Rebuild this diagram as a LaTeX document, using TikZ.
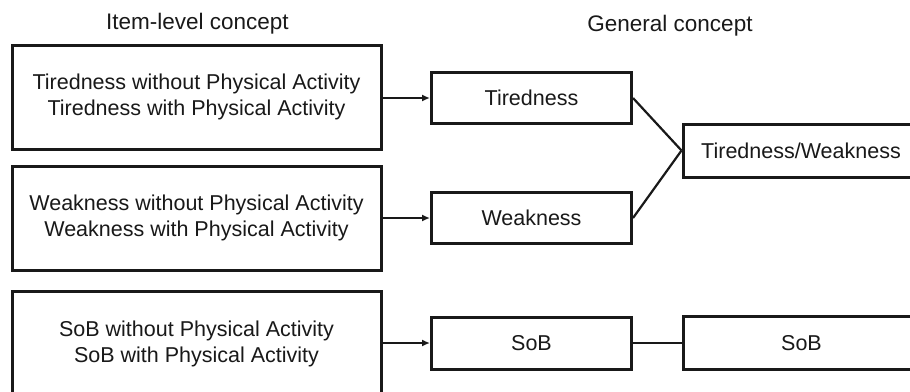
\documentclass[tikz,border=0pt]{standalone}
\usepackage{fontspec}
\setmainfont{Liberation Sans}
\usetikzlibrary{arrows.meta}
\begin{document}
\begin{tikzpicture}[x=1pt,y=-1pt,
  box/.style={draw=black!90, line width=3pt, rectangle, inner sep=0pt, align=center,
    font=\fontsize{21.5}{26}\selectfont, text=black!90},
  itembox/.style={box, minimum width=369pt, minimum height=104pt},
  genbox/.style={box, minimum width=200pt, minimum height=51pt},
  topbox/.style={box, minimum width=236pt, minimum height=53pt},
  header/.style={font=\fontsize{22.5}{27}\selectfont, anchor=base, text=black!90},
  link/.style={draw=black!90, line width=2.2pt},
  arrowlink/.style={link, -{Latex[length=8pt,width=7pt]}}]
\useasboundingbox (0,0) rectangle (910,391);
\clip (0,0) rectangle (910,391);
\fill[white] (0,0) rectangle (910,391);

\node[header] (hitem) at (197.5,29.5) {Item-level concept};
\node[header] (hgen) at (670,31.5) {General concept};

\node[itembox] (item1) at (196.5,97) {Tiredness without Physical Activity\\Tiredness with Physical Activity};
\node[itembox] (item2) at (196.5,218) {Weakness without Physical Activity\\Weakness with Physical Activity};
\node[itembox, minimum height=106pt] (item3) at (196.5,344) {SoB without Physical Activity\\SoB with Physical Activity};

\node[genbox] (tired) at (531.5,98) {Tiredness};
\node[genbox] (weak) at (531.5,218) {Weakness};
\node[genbox, minimum height=52pt] (sob) at (531.5,343) {SoB};

\node[topbox] (tw) at (801,150.5) {Tiredness/Weakness};
\node[topbox] (sobg) at (801.5,343) {SoB};

\draw[arrowlink] (item1.east |- tired.west) -- (tired.west);
\draw[arrowlink] (item2.east |- weak.west) -- (weak.west);
\draw[arrowlink] (item3.east |- sob.west) -- (sob.west);
\draw[link] (tired.east) -- (tw.west);
\draw[link] (weak.east) -- (tw.west);
\draw[link] (sob.east) -- (sobg.west);
\end{tikzpicture}
\end{document}
